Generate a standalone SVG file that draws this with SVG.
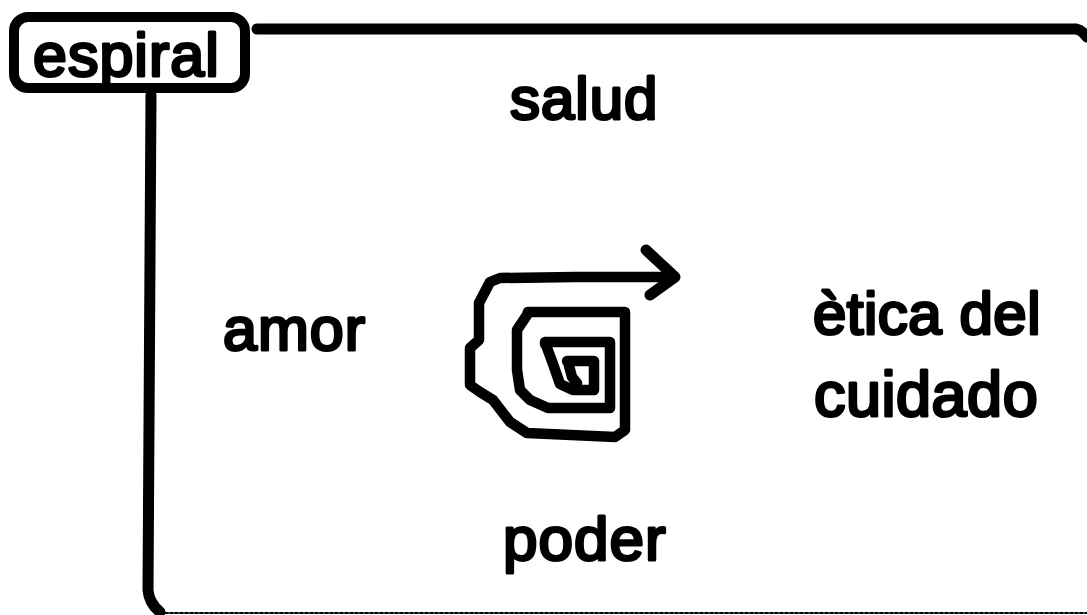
<svg xmlns="http://www.w3.org/2000/svg" width="1087" height="615" viewBox="0 0 1087 615">
<style>
.t{font-family:"Liberation Sans",Arial,sans-serif;font-weight:400;font-size:60px;fill:#000;stroke:#000;stroke-width:3;stroke-linejoin:round;letter-spacing:1px}
.l{fill:none;stroke:#000;stroke-linejoin:round;stroke-linecap:round}
</style>
<rect width="1087" height="615" fill="#fff"/>
<g id="connectors">
<path class="l" stroke-width="11" stroke-linecap="butt" d="M257 29H1076Q1082 30 1087 37"/>
<path class="l" stroke-width="11" stroke-linecap="butt" d="M151 95L148 590Q149 603 160 612"/>
<path class="l" stroke-width="2" stroke-dasharray="3 2" stroke="#555" stroke-linecap="butt" d="M160 613H1087"/>
</g>
<g id="espiral">
<rect x="14" y="17" width="231" height="71" rx="14" fill="#fff" stroke="#000" stroke-width="10"/>
<text class="t" style="font-size:61px" x="33" y="76">espiral</text>
</g>
<g id="salud"><text class="t" x="510" y="119">salud</text></g>
<g id="amor"><text class="t" style="font-size:61px" x="223" y="350">amor</text></g>
<g id="etica"><text class="t" style="letter-spacing:.5px" x="813" y="334">ètica del</text><text class="t" style="font-size:63px;letter-spacing:.5px" x="814" y="416">cuidado</text></g>
<g id="poder"><text class="t" style="font-size:62px" x="503" y="560">poder</text></g>
<g id="spiral-icon">
<path class="l" stroke-width="10.5" d="M577 383L572 377L568 362L567 361H594V390H573L560 384L553 364L546 345L545 344L545 342H610V408H548L530 400L520 390L517 370L517 330L527 315L528 312H625V430L615 437L527 433L510 422L493 400L480 392L470 385L470 348L479 340L479 303L490 282L500 278L575 277L670 277"/>
<path class="l" stroke-width="11" d="M646 250L675 277L650 295"/>
</g>
</svg>
